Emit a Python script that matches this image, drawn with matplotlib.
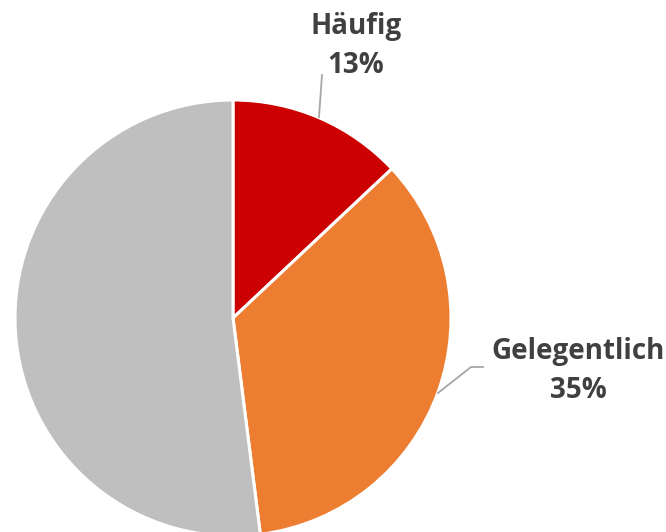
import matplotlib
matplotlib.use("Agg")
import matplotlib.pyplot as plt

categories = ["Häufig", "Gelegentlich", "Selten"]
values = [13, 35, 52]
colors = ["#CC0000", "#ED7D31", "#BFBFBF"]

W, H = 666, 532
fig = plt.figure(figsize=(W / 100, H / 100), dpi=100)
ax = fig.add_axes([0, 0, 1, 1])

cx, cy, r = 233, H - 318, 218
wedges, _ = ax.pie(values, colors=colors, startangle=90, counterclock=False,
                   center=(cx, cy), radius=r, frame=True,
                   wedgeprops=dict(edgecolor="white", linewidth=2.2))
ax.set_xlim(0, W)
ax.set_ylim(0, H)
ax.set_aspect("equal")
ax.axis("off")

txt = dict(ha="center", va="center", fontsize=20, fontweight="bold",
           color="#404040", family=["Open Sans", "DejaVu Sans"], linespacing=1.45)

# Häufig label + leader
ax.plot([319, 322], [H - 117, H - 75], color="#A6A6A6", lw=1.3)
ax.text(356, H - 46, f"{categories[0]}\n{values[0]}%", **txt)

# Gelegentlich label + leader
ax.plot([438, 471, 483], [H - 393, H - 367, H - 367], color="#A6A6A6", lw=1.3)
ax.text(578, H - 371, f"{categories[1]}\n{values[1]}%", **txt)

fig.savefig("out.png", dpi=100)
